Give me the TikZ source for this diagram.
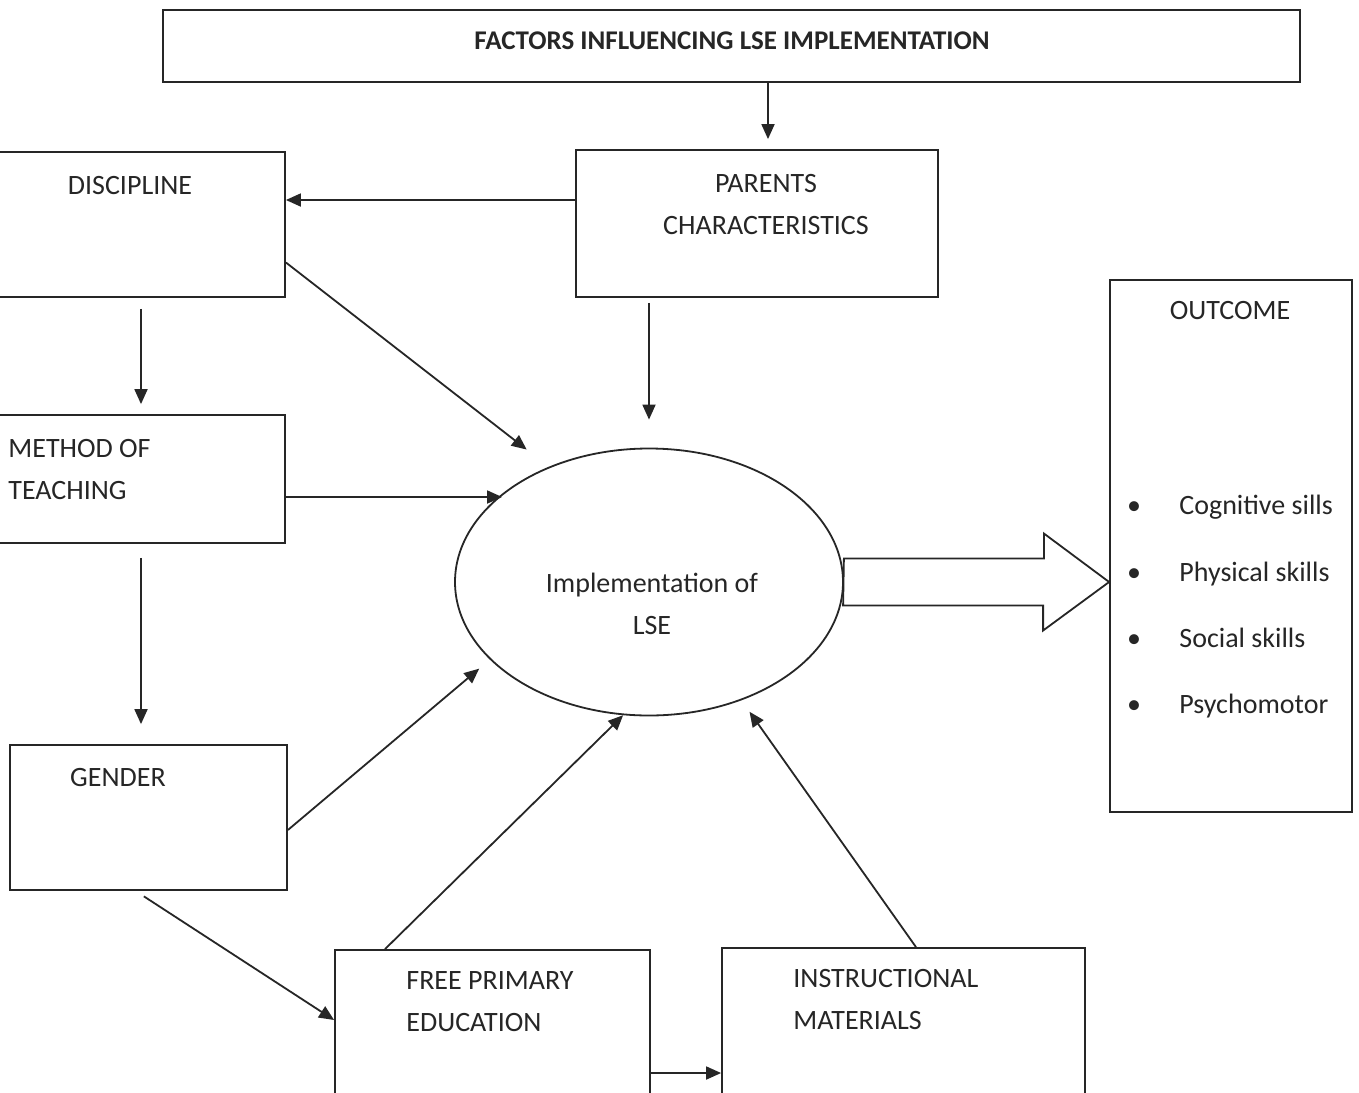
\documentclass[tikz,border=0pt]{standalone}
\usepackage{fontspec}
\setmainfont{Carlito}
\usetikzlibrary{arrows.meta,shapes.geometric}

\begin{document}
\begin{tikzpicture}[x=0.5pt,y=-0.5pt]
    \tikzset{Box/.style = {draw=black!85, line width=0.9pt, rectangle, inner sep=0pt},
             Txt/.style = {font=\fontsize{14}{21}\selectfont, text=black!85, inner sep=0pt},
             Arr/.style = {draw=black!85, line width=0.9pt, -{Triangle[length=7.5pt,width=6.5pt]}}}
    \useasboundingbox (0,0) rectangle (1359,1092);
    \clip (0,0) rectangle (1359,1092);
    \fill[white] (0,0) rectangle (1359,1092);
    % boxes
    \node[Box, minimum width=568.5pt, minimum height=36pt] (title) at (731.5,46) {};
    \node[Box, minimum width=181pt, minimum height=73.5pt] (par) at (757,223.5) {};
    \node[Box, minimum width=147.5pt, minimum height=72.5pt] (disc) at (137.5,224.5) {};
    \node[Box, minimum width=147.5pt, minimum height=64pt] (meth) at (137.5,479) {};
    \node[Box, minimum width=138.5pt, minimum height=72.5pt] (gen) at (148.5,817.5) {};
    \node[Box, minimum width=157.5pt, minimum height=80pt] (fpe) at (492.5,1030) {};
    \node[Box, minimum width=181.5pt, minimum height=81pt] (instr) at (903.5,1029) {};
    \node[Box, minimum width=121pt, minimum height=266pt] (outc) at (1231,546) {};
    \node[Box, ellipse, minimum width=194pt, minimum height=133.5pt] (imp) at (649,582) {};
    % texts
    \node[Txt, anchor=north, font=\fontsize{13.5}{21}\selectfont\bfseries] (titletxt) at (732,31) {FACTORS INFLUENCING LSE IMPLEMENTATION};
    \node[Txt, anchor=north, align=center] (partxt) at (766,174) {PARENTS\\CHARACTERISTICS};
    \node[Txt, anchor=north] (disctxt) at (130,176) {DISCIPLINE};
    \node[Txt, anchor=north west, align=left] (methtxt) at (8,439) {METHOD OF\\TEACHING};
    \node[Txt, anchor=north] (gentxt) at (118,768) {GENDER};
    \node[Txt, anchor=north west, align=left] (fpetxt) at (406,971) {FREE PRIMARY\\EDUCATION};
    \node[Txt, anchor=north west, align=left] (instrtxt) at (793,969) {INSTRUCTIONAL\\MATERIALS};
    \node[Txt, anchor=north, align=center] (imptxt) at (652,573) {Implementation of\\LSE};
    \node[Txt, anchor=north] (outctxt) at (1230,301) {OUTCOME};
    \foreach \y/\t [count=\i] in {514/Cognitive sills, 581/Physical skills, 647/Social skills, 713/Psychomotor}{
        \node[Txt, anchor=base] (bul\i) at (1134,\y) {\textbullet};
        \node[Txt, anchor=base west] (item\i) at (1179,\y) {\t};
    }
    % connectors
    \draw[Arr, shorten >=5pt] ([xshift=5.5pt]par.north |- title.south) -- ([xshift=5.5pt]par.north);
    \draw[Arr] ([yshift=11.75pt]par.west) -- ([yshift=11.75pt]par.west -| disc.east);
    \draw[Arr, shorten <=2.5pt, shorten >=14pt] (par.south -| imp.north) -- (imp.north);
    \draw[Arr, shorten >=14pt] ([yshift=-19pt]disc.east) -- (imp.131);
    \draw[Arr] ([yshift=-9pt]meth.east) -- ([yshift=-9pt]meth.east -| imp.149);
    \draw[Arr, shorten <=5.5pt, shorten >=5pt] ([xshift=1.75pt]disc.south) -- ([xshift=1.75pt]disc.south |- meth.north);
    \draw[Arr, shorten <=7pt, shorten >=10pt] ([xshift=1.75pt]meth.south) -- ([xshift=1.75pt]meth.south |- gen.north);
    \draw[Arr, shorten >=7pt] ([yshift=-6.25pt]gen.east) -- (imp.206);
    \draw[Arr, shorten <=5pt] ([xshift=-6.5pt]gen.south) -- ([yshift=5pt]fpe.west);
    \draw[Arr] ([xshift=-53.75pt]fpe.north) -- (imp.259);
    \draw[Arr, shorten >=7pt] ([xshift=6.25pt]instr.north) -- (imp.308);
    \draw[Arr] ([yshift=-21.5pt]fpe.east) -- ([yshift=-21.5pt]fpe.east -| instr.west);
    % block arrow to outcome
    \draw[draw=black!85, line width=0.9pt, fill=white] ([yshift=11.75pt]imp.east) -- ++(100pt,0) -- ++(0,12.5pt)
        -- (outc.west |- imp.east) -- ++(-33pt,-24.25pt) -- ++(0,12.5pt) -- ++(-100pt,0) -- cycle;
\end{tikzpicture}
\end{document}
